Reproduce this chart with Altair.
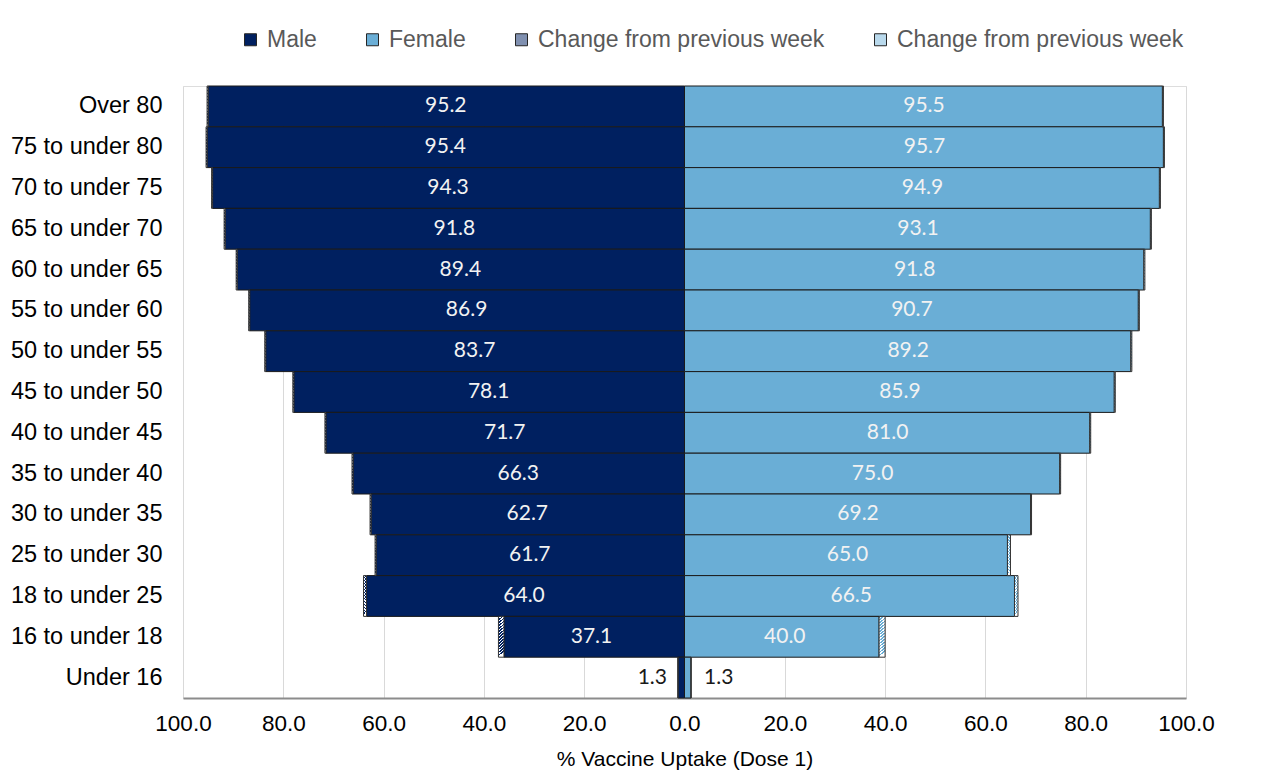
import altair as alt
import pandas as pd

groups = ["Over 80", "75 to under 80", "70 to under 75", "65 to under 70",
          "60 to under 65", "55 to under 60", "50 to under 55", "45 to under 50",
          "40 to under 45", "35 to under 40", "30 to under 35", "25 to under 30",
          "18 to under 25", "16 to under 18", "Under 16"]
male = [95.2, 95.4, 94.3, 91.8, 89.4, 86.9, 83.7, 78.1, 71.7, 66.3, 62.7, 61.7, 64.0, 37.1, 1.3]
female = [95.5, 95.7, 94.9, 93.1, 91.8, 90.7, 89.2, 85.9, 81.0, 75.0, 69.2, 65.0, 66.5, 40.0, 1.3]
male_change = [0.2, 0.2, 0.2, 0.2, 0.2, 0.2, 0.2, 0.2, 0.2, 0.2, 0.2, 0.2, 0.6, 1.1, 0.0]
female_change = [0.2, 0.2, 0.2, 0.2, 0.2, 0.2, 0.2, 0.2, 0.2, 0.2, 0.2, 0.6, 0.7, 1.2, 0.0]

NAVY = "#002060"
LIGHT = "#6aaed6"

rows = []
for i, g in enumerate(groups):
    for sex, vals, chs, sign in [("Male", male, male_change, -1), ("Female", female, female_change, 1)]:
        total = vals[i]
        ch = chs[i]
        main = total - ch
        rows.append({
            "group": g, "sex": sex, "total": total,
            "x0": 0.0, "xmain": sign * main, "xtot": sign * total,
            "mid": sign * total / 2, "label": f"{total:.1f}",
        })
df = pd.DataFrame(rows)


def stripes(c1, c2, n=14):
    stops = []
    for k in range(n):
        a = k / n
        b = (k + 0.5) / n
        c = (k + 1) / n
        stops += [alt.GradientStop(color=c1, offset=a), alt.GradientStop(color=c1, offset=b),
                  alt.GradientStop(color=c2, offset=b), alt.GradientStop(color=c2, offset=c)]
    return alt.Gradient(gradient="linear", stops=stops, x1=0, y1=0, x2=0.12, y2=1)


xscale = alt.Scale(domain=[-100, 100], nice=False)
yscale = alt.Scale(domain=groups, paddingInner=0, paddingOuter=0)

y_enc = alt.Y("group:N", sort=groups, scale=yscale, title=None,
              axis=alt.Axis(labelFont="Liberation Sans", labelFontSize=23.5, labelColor="#000000",
                            labelPadding=21, domain=False, ticks=False, grid=False))

base = alt.Chart(df)

main_bars = base.mark_bar(stroke="#1a1a1a", strokeWidth=1).encode(
    x=alt.X("x0:Q", scale=xscale, title="% Vaccine Uptake (Dose 1)",
            axis=alt.Axis(values=[-100, -80, -60, -40, -20, 0, 20, 40, 60, 80, 100],
                          labelExpr="format(abs(datum.value), '.1f')",
                          labelFont="Liberation Sans", labelFontSize=22.5, labelColor="#000000",
                          labelPadding=14, labelFlush=False, labelOverlap=False,
                          ticks=False, grid=True, gridColor="#d9d9d9",
                          gridWidth=1, domainColor="#8c8c8c", domainWidth=2,
                          titleFont="Liberation Sans", titleFontSize=21, titleFontWeight="normal",
                          titleColor="#000000", titlePadding=14)),
    x2="xmain:Q",
    y=y_enc,
    color=alt.Color("sex:N",
                    scale=alt.Scale(domain=["Male", "Female", "Change M", "Change F"],
                                    range=[NAVY, LIGHT, "#8090b0", "#b9d9ec"]),
                    legend=alt.Legend(title=None, orient="none", legendX=56, legendY=-58,
                                      direction="horizontal", columns=4, symbolType="square",
                                      symbolSize=144, symbolStrokeColor="#262626",
                                      symbolStrokeWidth=1, symbolOpacity=1,
                                      labelFont="Liberation Sans", labelFontSize=23,
                                      labelColor="#595959", labelOffset=5, columnPadding=44,
                                      labelLimit=0,
                                      labelExpr="indexof(datum.label, 'Change') == 0 ? 'Change from previous week' : datum.label")),
)

male_change_bars = base.transform_filter("datum.sex == 'Male'").mark_bar(
    fill=stripes(NAVY, "#ffffff"), stroke="#333333", strokeWidth=1
).encode(x=alt.X("xmain:Q", scale=xscale), x2="xtot:Q", y=alt.Y("group:N", sort=groups, scale=yscale))

female_change_bars = base.transform_filter("datum.sex == 'Female'").mark_bar(
    fill=stripes(LIGHT, "#ffffff"), stroke="#333333", strokeWidth=1
).encode(x=alt.X("xmain:Q", scale=xscale), x2="xtot:Q", y=alt.Y("group:N", sort=groups, scale=yscale))

inside_labels = base.transform_filter("datum.group != 'Under 16'").mark_text(
    font="Lato", fontSize=21, color="#f2f2f2", align="center", baseline="middle"
).encode(x=alt.X("mid:Q", scale=xscale), y=alt.Y("group:N", sort=groups, scale=yscale), text="label:N")

male_out = base.transform_filter("datum.group == 'Under 16' && datum.sex == 'Male'").mark_text(
    font="Lato", fontSize=21, color="#1a1a1a", align="right", baseline="middle", dx=-11
).encode(x=alt.X("xtot:Q", scale=xscale), y=alt.Y("group:N", sort=groups, scale=yscale), text="label:N")

female_out = base.transform_filter("datum.group == 'Under 16' && datum.sex == 'Female'").mark_text(
    font="Lato", fontSize=21, color="#1a1a1a", align="left", baseline="middle", dx=13
).encode(x=alt.X("xtot:Q", scale=xscale), y=alt.Y("group:N", sort=groups, scale=yscale), text="label:N")

chart = alt.layer(main_bars, male_change_bars, female_change_bars, inside_labels, male_out, female_out).properties(
    width=1003, height=612,
    autosize=alt.AutoSizeParams(type="none"),
    padding={"left": 175, "top": 78, "right": 90, "bottom": 80},
).configure_view(stroke=None).configure(background="#ffffff")

chart.save("out.html", embed_options={"renderer": "svg", "actions": False})
